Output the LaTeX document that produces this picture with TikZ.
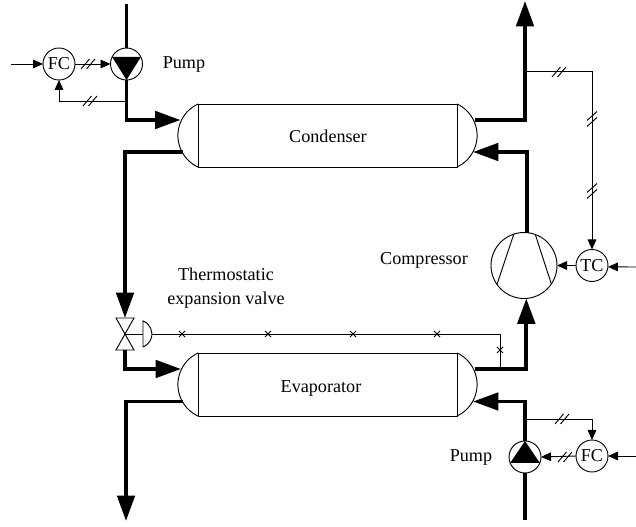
\documentclass[tikz,border=0pt]{standalone}
\usepackage{fontspec}
\setmainfont{Liberation Serif}
\usetikzlibrary{arrows.meta}
\begin{document}
\begin{tikzpicture}[x=.75pt,y=.75pt,line width=.7pt,font=\fontsize{13.6}{18}\selectfont,
  instr/.style={draw,circle,minimum size=24pt,inner sep=0pt,outer sep=0pt},
  vessel/.style={draw,minimum width=194.25pt,minimum height=47.25pt,inner sep=0pt,outer sep=0pt},
  pipe/.style={line width=2.8pt},
  flow/.style={pipe,-{Triangle[length=19pt,width=13pt]}},
  signal/.style={-{Triangle[length=7.5pt,width=6.5pt]}}]
\useasboundingbox(0,0)rectangle(636,-527);
% vessels
\node[vessel](condenser)at(327.5,-135.5){};
\node[vessel](evaporator)at(327.5,-384.5){};
\foreach \v in {condenser,evaporator}{
  \draw(\v.north west)arc[start angle=115,end angle=245,radius=26.1pt];
  \draw(\v.south east)arc[start angle=-65,end angle=65,radius=26.1pt];
}
\node(condlabel)at(328,-136){Condenser};
\node(evaplabel)at(321,-388){Evaporator};
% machines
\node[instr](pumptop)at(126.5,-64){};
\node[instr](pumpbot)at(525,-457){};
\node[instr,minimum size=49.5pt](comp)at(524,-265.5){};
\fill(pumptop.26)--(pumptop.154)--(pumptop.south)--cycle;
\fill(pumpbot.-22)--(pumpbot.-158)--(pumpbot.north)--cycle;
\draw(comp.108)--(comp.215);
\draw(comp.70)--(comp.-34);
\node[instr](fctop)at(59,-64){FC};
\node[instr](fcbot)at(592,-456){FC};
\node[instr](tc)at(592,-265.5){TC};
\node(pumptoplabel)at(184,-64){Pump};
\node(pumpbotlabel)at(471,-457){Pump};
\node(complabel)at(424,-260){Compressor};
\node[align=center](valvelabel)at(226,-288){Thermostatic\\expansion valve};
% port and end points
\coordinate(condin)at(180.5,-120);
\coordinate(condout)at(475,-120);
\coordinate(condret)at(473,-152);
\coordinate(condliq)at(183,-152);
\coordinate(evapin)at(181,-369);
\coordinate(evapout)at(475,-369);
\coordinate(evapret)at(473,-401.5);
\coordinate(evapliq)at(183,-401.5);
\coordinate(topfeed)at(126.5,-4);
\coordinate(botfeed)at(525,-520);
\coordinate(liqend)at(126,-521);
\coordinate(vapend)at(525,-1);
\coordinate(fctopin)at(11,-64);
\coordinate(fcbotin)at(636,-456);
\coordinate(tcin)at(636,-267);
\coordinate(taptop)at(126.5,-101);
\coordinate(tapbot)at(525,-419);
\coordinate(tapvap)at(525,-71);
% expansion valve
\coordinate(valve)at(125,-334);
\coordinate(valvetop)at(125,-318);
\coordinate(valvebot)at(125,-350);
\coordinate(bulb)at(143,-334);
\coordinate(bulbtip)at(152,-334);
\coordinate(capcorner)at(500,-334);
\coordinate(capend)at(500,-369);
\draw(116,-318)--(134,-318)--(116,-350)--(134,-350)--cycle;
\draw(valve)--(bulb);
\draw(143,-321)arc[start angle=69,end angle=-69,radius=10.4pt]--cycle;
% pipes
\draw[pipe](topfeed)--(pumptop.north);
\draw[flow](pumptop.south)|-(condin);
\draw[flow](condliq)-|(valvetop);
\draw[flow](valvebot)|-(evapin);
\draw[flow](evapliq)-|(liqend);
\draw[flow](evapout)-|(comp.-86);
\draw[flow](comp.85)|-(condret);
\draw[flow](condout)-|(vapend);
\draw[pipe](botfeed)--(pumpbot.south);
\draw[flow](pumpbot.north)|-(evapret);
% signals
\draw[signal](fctopin)--(fctop.west);
\draw[signal](fctop.east)--(pumptop.west);
\draw[signal](taptop)-|(fctop.south);
\draw[signal](tapvap)-|(tc.north);
\draw[signal](tc.west)--(comp.east);
\draw[signal](tcin)--(tc.-5);
\draw[signal](tapbot)-|(fcbot.north);
\draw[signal](fcbot.west)--(pumpbot.east);
\draw[signal](fcbotin)--(fcbot.east);
\draw(bulbtip)--(capcorner)--(capend);
\foreach \x/\y in {182/-334,268/-334,353/-334,437/-334,500/-350}{
  \draw(\x-3,\y-3)--(\x+3,\y+3)(\x-3,\y+3)--(\x+3,\y-3);
}
% double slashes
\foreach \x/\y in {88/-64,90/-101,559/-72,562/-419,565/-457}{
  \draw(\x-7,\y-5)--(\x+1.5,\y+5)(\x-1.5,\y-5)--(\x+7,\y+5);
}
\foreach \x/\y in {592/-119,592/-191}{
  \draw(\x-5,\y-7.5)--(\x+5,\y+1.5)(\x-5,\y-1.5)--(\x+5,\y+7.5);
}
\end{tikzpicture}
\end{document}
